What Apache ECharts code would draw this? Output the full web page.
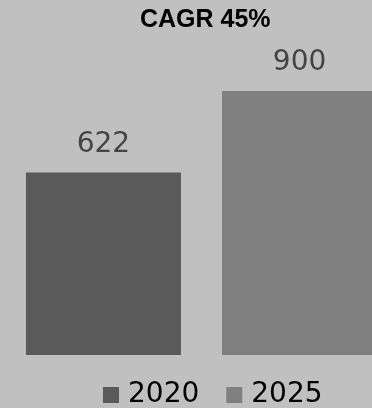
<!DOCTYPE html>
<html>
<head>
<meta charset="utf-8">
<script src="https://cdn.jsdelivr.net/npm/echarts@6/dist/echarts.min.js"></script>
<style>
  html, body { margin: 0; padding: 0; background: #c0c0c0; }
  #chart { width: 372px; height: 408px; }
</style>
</head>
<body>
<div id="chart"></div>
<script>
// data
var years = ['2020', '2025'];
var values = [622, 900];
var colors = ['#5a5a5a', '#808080'];
var titleText = 'CAGR 45%';

var myChart = echarts.init(document.getElementById('chart'));

var series = [];
for (var i = 0; i < years.length; i++) {
    series.push({
        name: years[i],
        type: 'bar',
        barWidth: 155,
        barGap: '26.5%',
        itemStyle: { color: colors[i] },
        label: {
            show: true,
            position: 'top',
            distance: 14,
            color: '#444',
            fontSize: 28,
            fontFamily: 'DejaVu Sans'
        },
        data: [values[i]]
    });
}

var option = {
    backgroundColor: '#c0c0c0',
    animation: false,
    title: {
        text: titleText,
        left: 135,
        top: 3,
        textStyle: {
            fontSize: 25,
            fontWeight: 'bold',
            color: '#000',
            fontFamily: 'Liberation Sans'
        }
    },
    legend: {
        data: years,
        left: 103,
        bottom: -1,
        padding: 0,
        itemWidth: 16,
        itemHeight: 16,
        itemGap: 27,
        icon: 'rect',
        textStyle: {
            fontSize: 28,
            color: '#000',
            fontFamily: 'DejaVu Sans',
            padding: [0, 0, 0, 4]
        }
    },
    grid: {
        left: 0,
        width: 403,
        top: 91,
        bottom: 53,
        outerBoundsMode: 'none'
    },
    xAxis: {
        type: 'category',
        data: [''],
        show: false
    },
    yAxis: {
        type: 'value',
        min: 0,
        max: 900,
        show: false
    },
    series: series
};

myChart.setOption(option);
</script>
</body>
</html>
